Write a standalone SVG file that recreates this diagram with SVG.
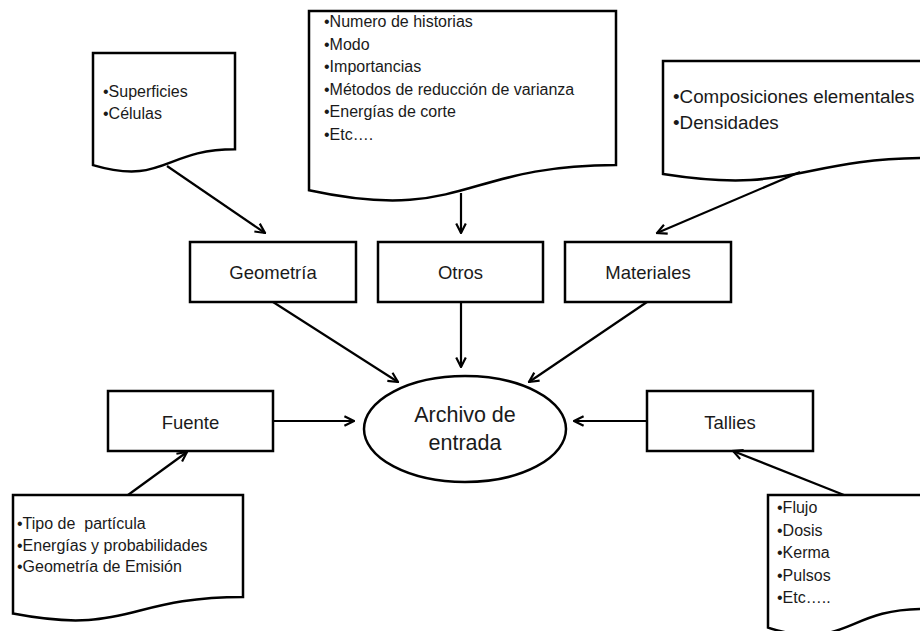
<svg xmlns="http://www.w3.org/2000/svg" width="920" height="631" viewBox="0 0 920 631">
<style>
.shape{fill:#fff;stroke:#000;stroke-width:2.5}
.txt{font-family:"Liberation Sans",Arial,sans-serif;fill:#1a1a1a}
.doc{font-size:16px}
.lbl{font-size:18.5px;text-anchor:middle}
.big{font-size:21.5px;text-anchor:middle}
.conn{fill:none;stroke:#000;stroke-width:2.2;marker-end:url(#ah)}
</style>
<defs>
<marker id="ah" viewBox="0 0 10 10" refX="9" refY="5" markerWidth="12" markerHeight="12" markerUnits="userSpaceOnUse" orient="auto">
<path d="M1,1 L9,5 L1,9" fill="none" stroke="#000" stroke-width="1.8"/>
</marker>
</defs>
<rect width="920" height="631" fill="#fff"/>

<g id="doc-geometria">
<path class="shape" d="M93,53 H235 V149.2 C164,149.2 164,185.9 93,165.1 Z"/>
<text class="txt doc" x="103" y="97">•Superficies</text>
<text class="txt doc" x="103" y="119">•Células</text>
</g>

<g id="doc-otros">
<path class="shape" d="M309,11 H616 V165 C462.5,165 462.5,223.6 309,190.3 Z"/>
<text class="txt doc" x="324" y="27">•Numero de historias</text>
<text class="txt doc" x="324" y="49.5">•Modo</text>
<text class="txt doc" x="324" y="72">•Importancias</text>
<text class="txt doc" x="324" y="94.5">•Métodos de reducción de varianza</text>
<text class="txt doc" x="324" y="117">•Energías de corte</text>
<text class="txt doc" x="324" y="139.5">•Etc….</text>
</g>

<g id="doc-materiales">
<path class="shape" d="M663,61 H930 V158 C796.5,158 796.5,195 663,174 Z"/>
<text class="txt" font-size="18.8" x="673" y="103">•Composiciones elementales</text>
<text class="txt" font-size="18.8" x="673" y="129">•Densidades</text>
</g>

<g id="doc-fuente">
<path class="shape" d="M13,495 H243 V596.9 C128,596.9 128,635.7 13,613.6 Z"/>
<text class="txt doc" font-size="16.5" x="17" y="529" style="white-space:pre">•Tipo de  partícula</text>
<text class="txt doc" font-size="16.5" x="17" y="550.5">•Energías y probabilidades</text>
<text class="txt doc" font-size="16.5" x="17" y="572">•Geometría de Emisión</text>
</g>

<g id="doc-tallies">
<path class="shape" d="M768,495 H923 V608.9 C845.5,608.9 845.5,652.3 768,627.6 Z"/>
<text class="txt doc" x="777" y="513">•Flujo</text>
<text class="txt doc" x="777" y="535.5">•Dosis</text>
<text class="txt doc" x="777" y="558">•Kerma</text>
<text class="txt doc" x="777" y="580.5">•Pulsos</text>
<text class="txt doc" x="777" y="603">•Etc…..</text>
</g>

<g id="geometria">
<rect class="shape" x="190" y="242" width="166" height="60"/>
<text class="txt lbl" x="273" y="279">Geometría</text>
</g>
<g id="otros">
<rect class="shape" x="378" y="242" width="165" height="60"/>
<text class="txt lbl" x="460.5" y="279">Otros</text>
</g>
<g id="materiales">
<rect class="shape" x="565" y="242" width="166" height="60"/>
<text class="txt lbl" x="648" y="279">Materiales</text>
</g>
<g id="fuente">
<rect class="shape" x="108" y="391" width="165" height="60"/>
<text class="txt lbl" x="190.5" y="429">Fuente</text>
</g>
<g id="tallies">
<rect class="shape" x="647" y="391" width="166" height="60"/>
<text class="txt lbl" x="730" y="429">Tallies</text>
</g>
<g id="archivo">
<ellipse class="shape" cx="465" cy="429" rx="101" ry="53"/>
<text class="txt big" x="465" y="422">Archivo de</text>
<text class="txt big" x="465" y="450">entrada</text>
</g>

<g id="connectors">
<line class="conn" x1="167" y1="166" x2="265" y2="233"/>
<line class="conn" x1="461" y1="193" x2="461" y2="233"/>
<line class="conn" x1="800" y1="172" x2="657" y2="233"/>
<line class="conn" x1="273" y1="302" x2="398" y2="382"/>
<line class="conn" x1="461" y1="302" x2="461" y2="367"/>
<line class="conn" x1="647" y1="302" x2="529" y2="382"/>
<line class="conn" x1="273" y1="421" x2="354" y2="421"/>
<line class="conn" x1="647" y1="421" x2="574" y2="421"/>
<line class="conn" x1="128" y1="495" x2="187" y2="452"/>
<line class="conn" x1="844" y1="495" x2="733" y2="451"/>
</g>
</svg>
